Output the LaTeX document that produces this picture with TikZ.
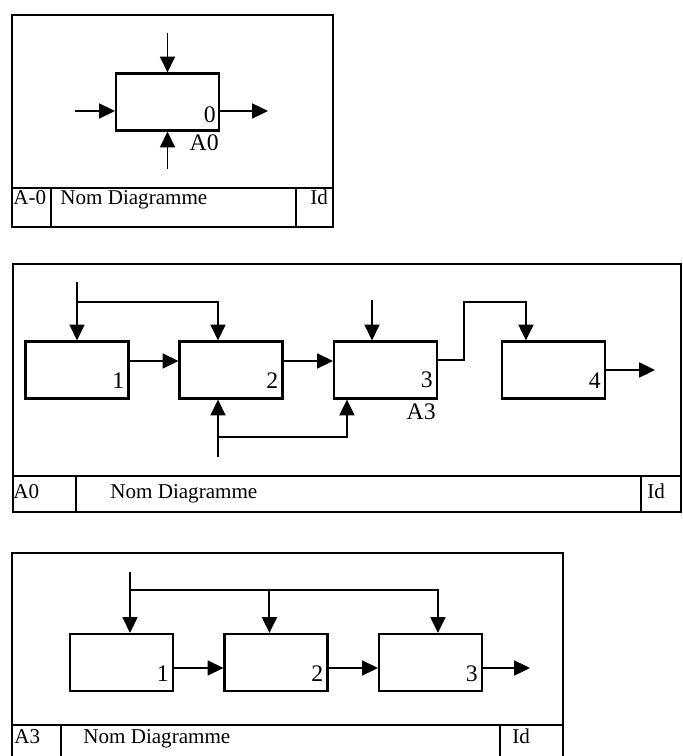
\documentclass[tikz,border=0pt]{standalone}
\usepackage{fontspec}
\setmainfont{Liberation Serif}
\usetikzlibrary{arrows.meta,positioning}

\tikzset{
proc/.style={draw, line width=1.2pt, minimum width=2.06cm, minimum height=1.14cm, inner sep=0pt},
flow/.style={line width=1.1pt, -{Triangle[length=9pt,width=8.5pt]}},
frame/.style={line width=1.5pt},
num/.style={font=\fontsize{13.5}{15}\selectfont, inner sep=0pt},
ttl/.style={font=\fontsize{12}{14}\selectfont, inner sep=0pt, anchor=base west},
}

\begin{document}
\begin{tikzpicture}[x=0.02cm, y=-0.02cm]
\clip (0,0) rectangle (682,756);

%--- diagramme A-0
\draw[frame] (12,15) rectangle (333,227);
\draw[frame] (12,188) -- (333,188) (51,188) -- (51,227) (296,188) -- (296,227);

\node[proc] (p0) at (167.5,102) {};
\node[num, anchor=south east] (n0) at ([shift={(-4,-8)}]p0.south east) {0};
\node[num, anchor=north east] (a0) at ([shift={(-1,3)}]p0.south east) {A0};

\coordinate (c0) at (167.5,33);
\coordinate (i0) at (75,111);
\coordinate (o0) at (268,111);
\coordinate (m0) at (167.5,169);
\draw[flow] (c0) -- (p0.north);
\draw[flow] (i0) -- (i0 -| p0.west);
\draw[flow] (o0 -| p0.east) -- (o0);
\draw[flow] (m0) -- (p0.south);

\node[ttl] (t0a) at (13,205) {A-0};
\node[ttl] (t0b) at (60,205) {Nom Diagramme};
\node[ttl] (t0c) at (310,205) {Id};

%--- diagramme A0
\draw[frame] (13,264) rectangle (681,512);
\draw[frame] (13,476) -- (681,476) (76,476) -- (76,512) (641,476) -- (641,512);

\node[proc] (b1) at (77,370) {};
\node[proc] (b2) at (231,370) {};
\node[proc] (b3) at (385.5,370) {};
\node[proc] (b4) at (553.5,370) {};
\foreach \b/\n in {b1/1, b2/2, b3/3, b4/4}
  \node[num, anchor=south east] (n\b) at ([shift={(-5,-11)}]\b.south east) {\n};
\node[num, anchor=north east] (a3) at ([shift={(-2,4)}]b3.south east) {A3};

\coordinate (c1) at (77,282);
\coordinate (j1) at (77,302);
\coordinate (m1) at (218,457);
\coordinate (j2) at (218,437);
\coordinate (c3) at (372,300);
\coordinate (o4) at (655,370);

\draw[flow] (c1) -- (b1.north);
\draw[flow] (j1) -| (m1 |- b2.north);
\draw[flow] (m1) -- (m1 |- b2.south);
\draw[flow] (j2) -| ([xshift=0.28cm]b3.south west);
\draw[flow] (c3) -- (c3 |- b3.north);
\draw[flow] ([yshift=0.18cm]b1.east) -- ([yshift=0.18cm]b2.west);
\draw[flow] ([yshift=0.18cm]b2.east) -- ([yshift=0.18cm]b3.west);
\draw[flow] ([yshift=0.2cm]b3.east) -| ++(26,-58) -| ([xshift=0.5cm]b4.north west);
\draw[flow] (b4.east) -- (o4);

\node[ttl] (t1a) at (13,498) {A0};
\node[ttl] (t1b) at (110,498) {Nom Diagramme};
\node[ttl] (t1c) at (647,498) {Id};

%--- diagramme A3
\draw[frame] (12,770) -- (12,553) -- (563,553) -- (563,770);
\draw[frame] (12,725) -- (563,725) (61,725) -- (61,770) (500,725) -- (500,770);

\node[proc] (d1) at (121.5,662.5) {};
\node[proc] (d2) at (276,662.5) {};
\node[proc] (d3) at (430.5,662.5) {};
\foreach \b/\n in {d1/1, d2/2, d3/3}
  \node[num, anchor=south east] (n\b) at ([shift={(-5,-10)}]\b.south east) {\n};

\coordinate (c5) at (130,572);
\coordinate (j5) at (130,590);
\coordinate (o5) at (530,668);

\draw[flow] (c5) -- (c5 |- d1.north);
\draw[flow] (j5) -| ([xshift=1.2cm]d3.north west);
\draw[flow] ([xshift=0.92cm]d2.north west |- j5) -- ([xshift=0.92cm]d2.north west);
\draw[flow] ([yshift=-0.11cm]d1.east) -- ([yshift=-0.11cm]d2.west);
\draw[flow] ([yshift=-0.11cm]d2.east) -- ([yshift=-0.11cm]d3.west);
\draw[flow] ([yshift=-0.11cm]d3.east) -- (o5);

\node[ttl] (t2a) at (14,743) {A3};
\node[ttl] (t2b) at (83,743) {Nom Diagramme};
\node[ttl] (t2c) at (512,743) {Id};

\end{tikzpicture}
\end{document}
